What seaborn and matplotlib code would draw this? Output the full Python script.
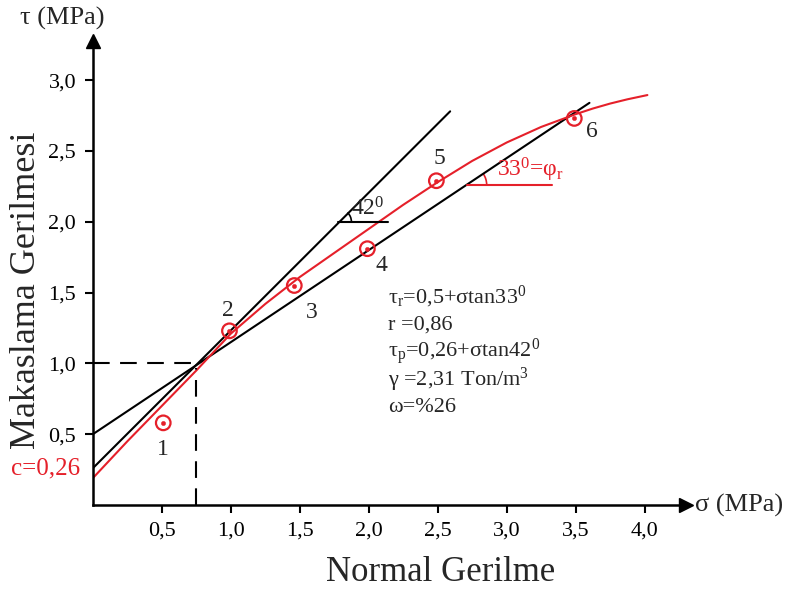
import matplotlib
matplotlib.use("Agg")
import matplotlib.pyplot as plt
from matplotlib.patches import Arc
import numpy as np
import pandas as pd
import seaborn as sns

# shear test points (sigma, tau) in MPa
sigma_pts = [0.51, 0.99, 1.46, 1.99, 2.49, 3.49]
tau_pts = [0.58, 1.23, 1.55, 1.81, 2.29, 2.73]
pt_labels = ["1", "2", "3", "4", "5", "6"]
label_x = [0.51, 0.98, 1.59, 2.09, 2.51, 3.62]
label_y = [0.39, 1.37, 1.36, 1.69, 2.45, 2.64]

# red failure envelope
curve_x = [0, 0.25, 0.5, 0.75, 1.0, 1.25, 1.5, 1.75, 2.0, 2.25, 2.5, 2.75,
           3.0, 3.25, 3.5, 3.625, 3.75, 3.875, 4.02]
curve_y = [0.19, 0.45, 0.70, 0.95, 1.21, 1.42, 1.61, 1.78, 1.95, 2.12, 2.28,
           2.43, 2.56, 2.67, 2.76, 2.80, 2.835, 2.865, 2.895]

# straight envelopes
resid_x = [0, 3.6]
resid_y = [0.50, 2.84]
peak_x = [0, 2.59]
peak_y = [0.26, 2.78]

info_lines = [r"τ$_{\rm r}$=0,5+σtan33$^{\rm 0}$",
              "r =0,86",
              r"τ$_{\rm p}$=0,26+σtan42$^{\rm 0}$",
              r"γ =2,31 Ton/m$^{\rm 3}$",
              "ω=%26"]
info_y = [1.47, 1.27, 1.08, 0.88, 0.69]

xticks = [0.5, 1.0, 1.5, 2.0, 2.5, 3.0, 3.5, 4.0]
yticks = [0.5, 1.0, 1.5, 2.0, 2.5, 3.0]

RED = "#e5202a"

sns.set_style("ticks")
plt.rcParams["font.family"] = ["Liberation Serif", "DejaVu Serif"]
plt.rcParams["mathtext.fontset"] = "custom"
plt.rcParams["mathtext.rm"] = "Liberation Serif"
plt.rcParams["mathtext.it"] = "Liberation Serif:italic"

fig = plt.figure(figsize=(7.94, 5.92), dpi=100)
ax = fig.add_axes([0.117, 0.147, 0.747, 0.7845])
ax.set_xlim(0, 4.3)
ax.set_ylim(0, 3.28)

sns.lineplot(x=resid_x, y=resid_y, ax=ax, color="black", lw=1.5)
sns.lineplot(x=peak_x, y=peak_y, ax=ax, color="black", lw=1.5)
sns.lineplot(x=curve_x, y=curve_y, ax=ax, color=RED, lw=1.5, sort=False)

# dashed guide lines at the intersection
ax.plot([0, 0.75], [1.0, 1.0], color="black", lw=1.5, dashes=(8, 5))
ax.plot([0.75, 0.75], [0, 0.97], color="black", lw=1.5, dashes=(8, 5))

sns.scatterplot(x=sigma_pts, y=tau_pts, ax=ax, s=110, marker="o",
                facecolor="none", edgecolor=RED, linewidth=1.6, zorder=5)
sns.scatterplot(x=sigma_pts, y=tau_pts, ax=ax, s=10, color=RED,
                edgecolor=RED, zorder=6)

for lx, ly, t in zip(label_x, label_y, pt_labels):
    ax.text(lx, ly, t, fontsize=17, ha="center", va="center")

# angle marks
ax.plot([1.78, 2.14], [2.0, 2.0], color="black", lw=1.5)
ax.add_patch(Arc((1.78, 2.0), 2 * 13 / 138, 2 * 13 / 141.6, theta1=0, theta2=45,
                 color="black", lw=1.2))
ax.text(1.87, 2.01, r"42$^{\rm 0}$", fontsize=17, ha="left", va="bottom")

ax.plot([2.71, 3.33], [2.26, 2.26], color=RED, lw=1.5)
ax.add_patch(Arc((2.71, 2.26), 2 * 20 / 138, 2 * 20 / 141.6, theta1=0, theta2=34,
                 color=RED, lw=1.2))
ax.text(2.93, 2.27, r"33$^{\rm 0}$=φ$_{\rm r}$", fontsize=17, color=RED,
        ha="left", va="bottom")

for t, yy in zip(info_lines, info_y):
    ax.text(2.14, yy, t, fontsize=16, ha="left", va="center")

ax.text(-0.09, 0.26, "c=0,26", fontsize=18, color=RED, ha="right", va="center",
        clip_on=False)

ax.set_xticks(xticks)
ax.set_xticklabels([f"{v:.1f}".replace(".", ",") for v in xticks])
ax.set_yticks(yticks)
ax.set_yticklabels([f"{v:.1f}".replace(".", ",") for v in yticks])
ax.tick_params(direction="out", length=6, width=1.5, labelsize=16, pad=6,
               colors="black")

sns.despine(ax=ax)
for s in ["left", "bottom"]:
    ax.spines[s].set_linewidth(1.8)
    ax.spines[s].set_color("black")

# arrow heads on the axes
ax.plot(1, 0, ">", color="black", ms=10, transform=ax.transAxes, clip_on=False)
ax.plot(0, 1, "^", color="black", ms=10, transform=ax.transAxes, clip_on=False)

fig.text(0.025, 0.968, "τ (MPa)", fontsize=19, ha="left", va="center")
fig.text(0.875, 0.147, "σ (MPa)", fontsize=19, ha="left", va="center")
fig.text(0.033, 0.51, "Makaslama Gerilmesi", fontsize=26, rotation=90,
         ha="center", va="center")
fig.text(0.555, 0.033, "Normal Gerilme", fontsize=25, ha="center", va="center")

fig.savefig("out.png", dpi=100)
